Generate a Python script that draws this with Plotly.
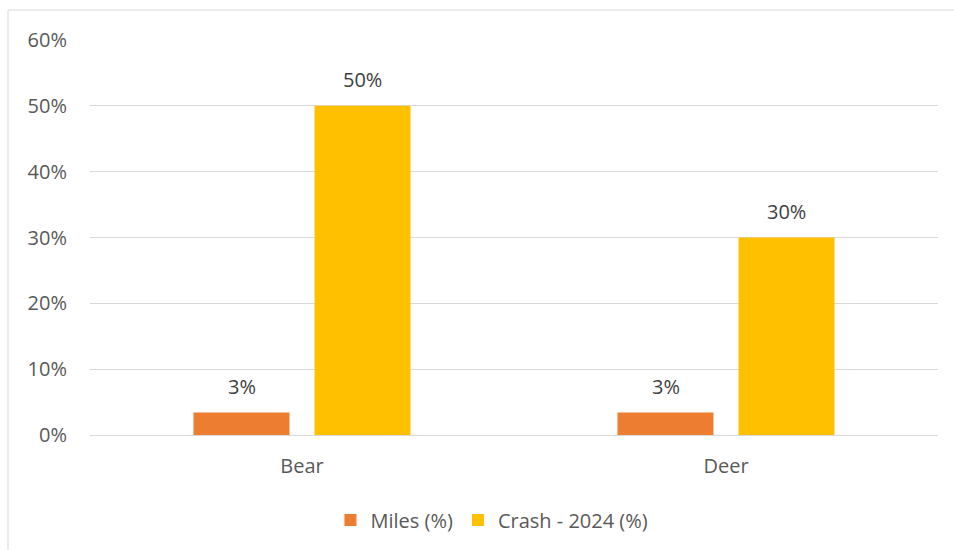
import plotly.graph_objects as go

categories = ["Bear", "Deer"]
miles_pct = [0.034, 0.034]
crash_pct = [0.50, 0.30]
series_names = ["Miles (%)", "Crash - 2024 (%)"]
series_colors = ["#ED7D31", "#FFC000"]
y_ticks = [0, 0.1, 0.2, 0.3, 0.4, 0.5, 0.6]

FONT = "Open Sans"
FS = 20
W, H = 954, 550
L, R, T, B = 90, 16, 40, 114

fig = go.Figure()
for name, vals, col in zip(series_names, [miles_pct, crash_pct], series_colors):
    fig.add_trace(go.Bar(x=categories, y=vals, name=name, marker=dict(color=col, line=dict(width=0))))

# value labels above each bar
bar_offset = 60.5
for vals, sign in [(miles_pct, -1), (crash_pct, 1)]:
    for cat, v in zip(categories, vals):
        fig.add_annotation(
            x=cat, y=v, xref="x", yref="y", text=f"{v:.0%}", showarrow=False,
            xshift=sign * bar_offset, yanchor="bottom", yshift=11,
            font=dict(family=FONT, size=FS, color="#404040"),
        )

plot_w = W - L - R
plot_h = H - T - B
# outer chart border
fig.add_shape(
    type="rect", xref="paper", yref="paper",
    x0=(8 - L) / plot_w, x1=(W + 20 - L) / plot_w,
    y0=-(H + 20 - T - plot_h) / plot_h, y1=1 + (T - 10) / plot_h,
    line=dict(color="#D9D9D9", width=1), fillcolor="rgba(0,0,0,0)", layer="below",
)

fig.update_layout(
    width=W, height=H,
    margin=dict(l=L, r=R, t=T, b=B),
    paper_bgcolor="white", plot_bgcolor="white",
    barmode="group", bargap=0.429, bargroupgap=0.207,
    font=dict(family=FONT, size=FS, color="#595959"),
    showlegend=True,
    legend=dict(
        orientation="h", x=0.474, xanchor="center", y=-(520 - T - plot_h) / plot_h,
        yanchor="middle", font=dict(family=FONT, size=FS, color="#595959"),
        itemwidth=30, traceorder="normal",
    ),
    xaxis=dict(
        showgrid=False, showline=False, zeroline=False, ticks="",
        ticklabelstandoff=17,
    ),
    yaxis=dict(
        range=[0, 0.6], tickvals=y_ticks, tickformat=".0%",
        showgrid=True, gridcolor="#D9D9D9", gridwidth=1,
        zeroline=True, zerolinecolor="#D9D9D9", zerolinewidth=1,
        showline=False, ticks="", ticklabelstandoff=22,
    ),
)

fig.write_html("out.html")
